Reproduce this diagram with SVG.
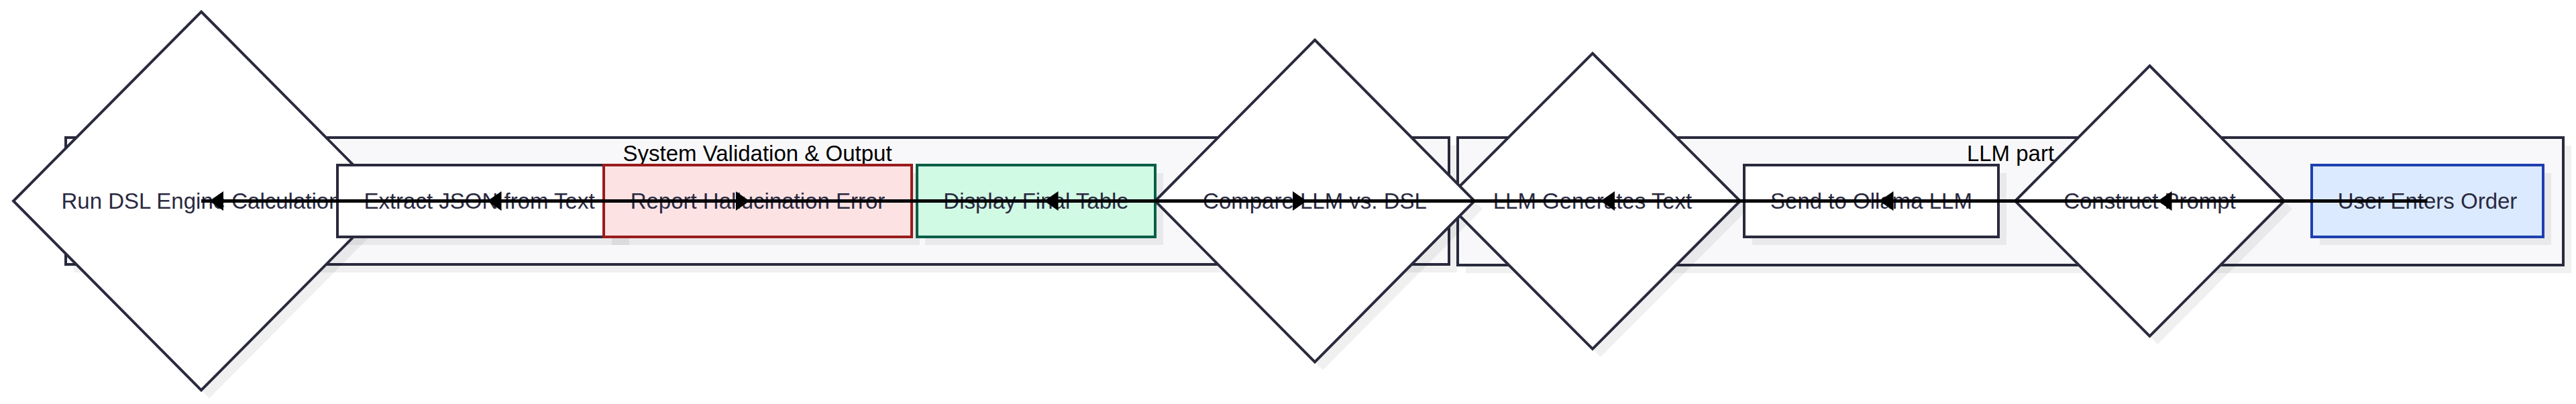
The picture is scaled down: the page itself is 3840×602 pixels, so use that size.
<svg xmlns="http://www.w3.org/2000/svg" width="3840" height="602" viewBox="0 0 3840 602">
  <defs>
    <style>
      .shadow { fill: rgba(0,0,0,0.06); stroke: none; }
      .cluster { fill: #f8f8fa; stroke: #2a2a3e; stroke-width: 4; }
      .clabel { font-family: "Liberation Sans", Arial, sans-serif; font-size: 33px; fill: #000; text-anchor: middle; }
      .node { fill: #ffffff; stroke: #2a2a3e; stroke-width: 4; }
      .err { fill: #fde2e4; stroke: #9b1c1c; stroke-width: 4; }
      .ok { fill: #d1fae5; stroke: #065f46; stroke-width: 4; }
      .start { fill: #dbeafe; stroke: #1e40af; stroke-width: 4; }
      .label { font-family: "Liberation Sans", Arial, sans-serif; font-size: 33px; fill: #2a2a40; text-anchor: middle; }
      .edge { stroke: #000; stroke-width: 5; fill: none; marker-end: url(#arrow); }
    </style>
    <marker id="arrow" markerUnits="userSpaceOnUse" viewBox="0 0 33 29" markerWidth="33" markerHeight="29" refX="33" refY="14.5" orient="auto">
      <path d="M0,0 L21,14.5 L0,29 Z" fill="#000"/>
    </marker>
  </defs>

  <g id="cluster-validation">
    <rect class="shadow" x="110" y="217" width="2062" height="189"/>
    <rect class="cluster" x="98" y="205" width="2062" height="189"/>
    <text class="clabel" x="1129" y="240">System Validation &amp; Output</text>
  </g>
  <g id="cluster-llm">
    <rect class="shadow" x="2185" y="217" width="1648" height="190"/>
    <rect class="cluster" x="2173" y="205" width="1648" height="190"/>
    <text class="clabel" x="2997" y="240">LLM part</text>
  </g>

  <g id="node-run-dsl">
    <polygon class="shadow" points="312,29.5 592,311.5 312,593.5 32,311.5"/>
    <polygon class="node" points="300,17.5 580,299.5 300,581.5 20,299.5"/>
    <text class="label" x="300" y="311">Run DSL Engine Calculation</text>
  </g>
  <g id="node-extract-json">
    <rect class="shadow" x="515" y="258" width="423" height="107"/>
    <rect class="node" x="503" y="246" width="423" height="107"/>
    <text class="label" x="714.5" y="311">Extract JSON from Text</text>
  </g>
  <g id="node-report-error">
    <rect class="shadow" x="912" y="258" width="459" height="107"/>
    <rect class="err" x="900" y="246" width="459" height="107"/>
    <text class="label" x="1129.5" y="311">Report Hallucination Error</text>
  </g>
  <g id="node-display-table">
    <rect class="shadow" x="1379" y="258" width="355" height="107"/>
    <rect class="ok" x="1367" y="246" width="355" height="107"/>
    <text class="label" x="1544.5" y="311">Display Final Table</text>
  </g>
  <g id="node-llm-generates">
    <polygon class="shadow" points="2386,91.5 2606,311.5 2386,532 2166,311.5"/>
    <polygon class="node" points="2374,79.5 2594,299.5 2374,520 2154,299.5"/>
    <text class="label" x="2374" y="311">LLM Generates Text</text>
  </g>
  <g id="node-compare">
    <polygon class="shadow" points="1972,71.5 2210,311.5 1972,551.5 1734,311.5"/>
    <polygon class="node" points="1960,59.5 2198,299.5 1960,539.5 1722,299.5"/>
    <text class="label" x="1960" y="311">Compare LLM vs. DSL</text>
  </g>
  <g id="node-send-ollama">
    <rect class="shadow" x="2612" y="258" width="379" height="107"/>
    <rect class="node" x="2600" y="246" width="379" height="107"/>
    <text class="label" x="2789.5" y="311">Send to Ollama LLM</text>
  </g>
  <g id="node-construct-prompt">
    <polygon class="shadow" points="3216.5,110 3417,311.5 3216.5,513 3016,311.5"/>
    <polygon class="node" points="3204.5,98 3405,299.5 3204.5,501 3004,299.5"/>
    <text class="label" x="3204.5" y="311">Construct Prompt</text>
  </g>
  <g id="node-user-order">
    <rect class="shadow" x="3458" y="258" width="345" height="107"/>
    <rect class="start" x="3446" y="246" width="345" height="107"/>
    <text class="label" x="3618.5" y="311">User Enters Order</text>
  </g>

  <g id="connectors">
    <line class="edge" x1="3618.5" y1="299.5" x2="3204.5" y2="299.5"/>
    <line class="edge" x1="3204.5" y1="299.5" x2="2789.5" y2="299.5"/>
    <line class="edge" x1="2789.5" y1="299.5" x2="2374" y2="299.5"/>
    <line class="edge" x1="2374" y1="299.5" x2="714.5" y2="299.5"/>
    <line class="edge" x1="714.5" y1="299.5" x2="300" y2="299.5"/>
    <line class="edge" x1="300" y1="299.5" x2="1960" y2="299.5"/>
    <line class="edge" x1="1960" y1="299.5" x2="1544.5" y2="299.5"/>
    <line class="edge" x1="714.5" y1="299.5" x2="1129.5" y2="299.5"/>
  </g>
</svg>
